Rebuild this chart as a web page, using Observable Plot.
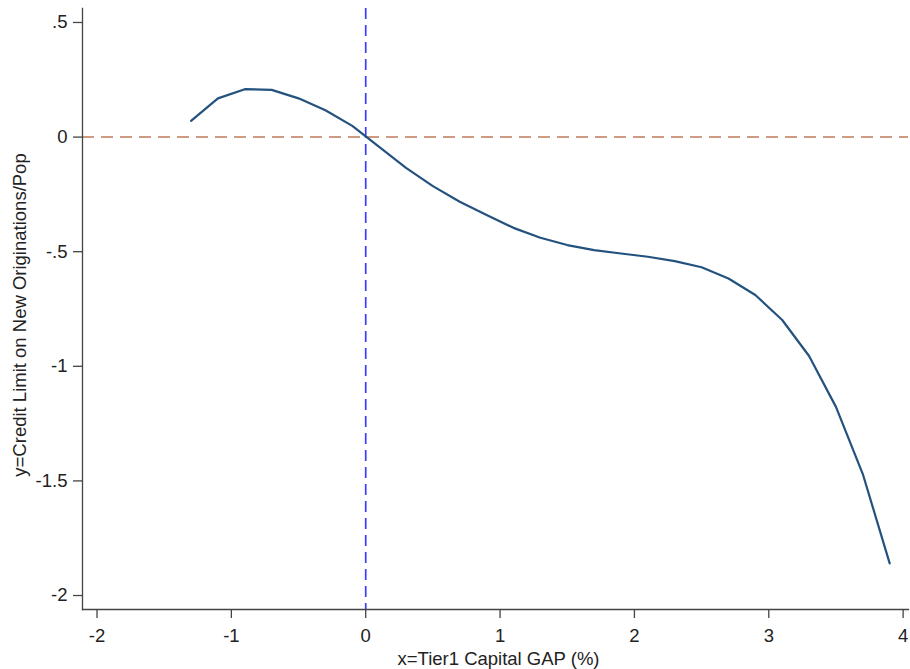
<!DOCTYPE html>
<html>
<head>
<meta charset="utf-8">
<script src="https://cdn.jsdelivr.net/npm/d3@7"></script>
<script src="https://cdn.jsdelivr.net/npm/@observablehq/plot@0.6"></script>
<style>
  html, body { margin: 0; padding: 0; background: #fff; }
  #chart svg { display: block; }
</style>
</head>
<body>
<div id="chart"></div>
<script>
const gapX = [-1.3, -1.1, -0.9, -0.7, -0.5, -0.3, -0.1, 0.1, 0.3, 0.5, 0.7, 0.9, 1.1, 1.3, 1.5, 1.7, 1.9, 2.1, 2.3, 2.5, 2.7, 2.9, 3.1, 3.3, 3.5, 3.7, 3.9];
const creditY = [0.071, 0.169, 0.209, 0.206, 0.169, 0.117, 0.049, -0.043, -0.134, -0.214, -0.282, -0.340, -0.396, -0.439, -0.471, -0.493, -0.508, -0.522, -0.541, -0.568, -0.617, -0.689, -0.798, -0.955, -1.177, -1.470, -1.860];
const xTicks = [-2, -1, 0, 1, 2, 3, 4];
const yTicks = [-2, -1.5, -1, -0.5, 0, 0.5];
const xTitle = "x=Tier1 Capital GAP (%)";
const yTitle = "y=Credit Limit on New Originations/Pop";
const refX = 0;
const refY = 0;

const data = gapX.map((x, i) => ({x, y: creditY[i]}));
const fmt = d => d === 0 ? "0" : String(d).replace("0.", ".");
const FONT = "Liberation Sans, Arial, sans-serif";

const chart = Plot.plot({
  width: 910,
  height: 669,
  marginLeft: 82,
  marginRight: 2,
  marginTop: 8,
  marginBottom: 60,
  style: {fontFamily: FONT, fontSize: "18.5px", color: "#222", background: "#fff"},
  x: {domain: [-2.108, 4.04]},
  y: {domain: [-2.061, 0.561]},
  marks: [
    Plot.ruleY([refY], {stroke: "#cf9a82", strokeWidth: 2, strokeDasharray: "12,7"}),
    Plot.ruleX([refX], {stroke: "#3c3cff", strokeWidth: 1.7, strokeDasharray: "11,6"}),
    Plot.line(data, {x: "x", y: "y", stroke: "#24527f", strokeWidth: 2.2}),
    Plot.frame({anchor: "left", stroke: "#444", strokeWidth: 1.3}),
    Plot.frame({anchor: "bottom", stroke: "#444", strokeWidth: 1.3}),
    Plot.axisX({ticks: xTicks, tickFormat: fmt, tickSize: 9, tickPadding: 10, stroke: "#444", strokeWidth: 1.3, label: null, fontSize: 18.5}),
    Plot.axisY({ticks: yTicks, tickFormat: fmt, tickSize: 9, tickPadding: 6, stroke: "#444", strokeWidth: 1.3, label: null, fontSize: 18.5}),
    Plot.text([xTitle], {text: d => d, frameAnchor: "bottom", lineAnchor: "top", textAnchor: "middle", dx: 3, dy: 42, fontSize: 18.5, fill: "#222"}),
    Plot.text([yTitle], {text: d => d, frameAnchor: "left", rotate: -90, textAnchor: "middle", lineAnchor: "middle", dx: -62, dy: 6, fontSize: 18.5, fill: "#222"})
  ]
});
document.getElementById("chart").appendChild(chart);
</script>
</body>
</html>
